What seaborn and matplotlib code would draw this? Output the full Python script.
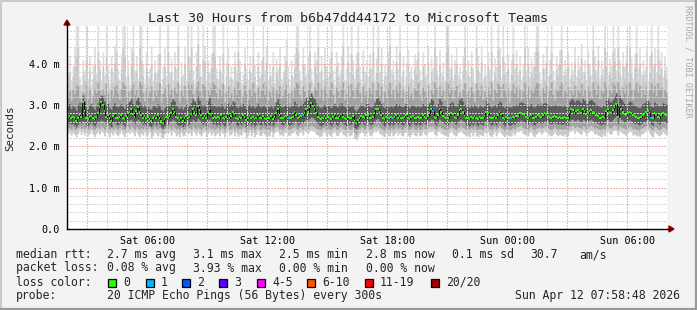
import numpy as np
import pandas as pd
import matplotlib
matplotlib.use("Agg")
import matplotlib.pyplot as plt
import seaborn as sns
from matplotlib.patches import Rectangle
from matplotlib.lines import Line2D

# ---------------- data (hundredths of a millisecond, one value per 5-minute step) -------------
START_HOUR = 1.98          # Sat 01:58:48 (hours since Sat 00:00)
STEP_HOURS = 1.0 / 12.0    # 5 minutes

MEDIAN = [
272,273,270,272,268,262,270,276,272,308,285,270,266,272,275,270,266,272,280,295,308,300,285,272,276,268,262,275,278,270,
268,272,276,270,266,274,280,284,290,278,272,286,296,284,276,270,274,268,272,266,262,270,274,268,276,270,262,258,266,272,
270,274,282,290,284,272,268,264,270,262,268,274,268,272,278,290,284,276,298,288,276,270,274,268,284,292,278,270,272,268,
272,268,276,270,266,272,278,270,274,284,278,270,266,272,268,276,272,264,270,274,268,272,266,270,276,270,268,274,270,266,
270,268,274,266,272,280,290,276,270,268,272,274,270,268,270,272,284,276,268,272,274,276,282,290,284,296,305,298,290,280,
272,268,266,270,274,268,272,270,266,272,276,270,268,274,278,272,270,266,272,268,270,274,262,258,264,270,274,272,268,276,
276,270,268,272,280,290,292,284,276,270,266,272,270,268,272,268,272,276,270,274,270,268,272,276,270,266,272,274,270,268,
272,268,270,276,272,270,274,280,290,286,272,268,276,290,284,274,272,270,268,276,282,278,272,270,276,288,292,284,274,268,
270,266,272,268,274,270,266,272,270,268,274,284,280,272,268,270,274,268,276,284,278,270,266,272,270,268,268,272,270,274,
274,280,282,278,276,272,270,274,276,270,268,272,276,274,272,276,280,278,274,272,270,272,274,272,270,272,270,270,272,268,
268,284,290,288,282,286,288,284,280,290,286,278,282,286,288,284,280,276,274,270,268,272,270,286,290,284,282,288,296,304,
272,298,290,284,278,276,280,284,282,276,274,272,270,268,272,276,278,284,286,280,270,268,282,278,272,270,276,280,278,276]

SMOKE_MAX = [
380,420,360,395,440,500,500,370,350,410,385,500,365,420,350,395,440,380,500,410,360,430,375,500,400,355,420,380,445,500,
390,360,425,500,500,370,410,350,440,500,385,420,365,500,500,400,355,430,370,390,445,360,410,380,425,500,350,395,440,370,
500,380,415,360,430,390,500,350,405,375,440,365,500,420,500,385,355,430,500,400,370,500,445,360,410,380,425,500,500,390,
365,420,380,500,350,405,440,370,395,360,430,385,500,410,355,375,440,390,360,420,380,500,400,350,430,370,410,500,385,445,
360,400,375,430,355,415,390,440,365,380,420,460,395,350,410,370,425,500,500,385,360,440,400,375,420,500,390,355,430,410,
500,380,420,360,440,395,370,415,500,385,350,430,405,375,420,500,360,390,445,380,500,410,365,425,500,395,355,435,380,410,
370,425,390,500,360,415,500,380,440,355,400,375,430,500,385,410,360,445,390,500,370,420,350,405,435,380,395,360,425,410,
500,385,360,430,400,375,445,355,415,390,500,420,370,435,380,405,360,500,500,390,425,365,410,440,375,395,355,420,500,385,
410,370,430,390,355,500,420,380,445,365,400,375,430,385,500,360,415,395,500,440,370,500,405,380,425,355,410,500,390,435,
375,420,360,400,500,385,440,370,415,395,430,500,500,380,355,425,390,445,370,410,500,385,360,420,400,435,500,375,410,390,
430,365,405,385,440,370,420,395,450,380,410,360,435,400,375,500,420,385,445,365,410,390,500,430,375,415,395,500,440,385,
500,410,370,430,395,445,380,500,415,365,425,500,390,440,375,410,385,435,360,420,500,395,440,380,500,410,430,370,420,395]

SMOKE_HI1 = [
355,380,340,370,395,420,440,350,335,375,360,410,345,385,330,365,400,360,430,385,340,395,355,420,370,335,390,355,400,430,
365,340,385,440,420,350,375,335,395,430,360,385,345,445,410,370,335,390,350,365,400,340,380,355,385,425,330,365,395,350,
430,355,380,340,395,360,445,330,370,350,400,345,420,385,440,360,335,395,450,370,350,410,405,340,375,355,390,430,420,365,
345,385,355,425,330,370,400,350,365,340,395,360,430,380,330,350,400,365,340,385,355,420,370,335,395,350,375,420,360,405,
340,370,350,395,330,380,360,400,345,355,385,410,365,330,375,345,390,440,430,360,340,400,370,350,385,430,360,335,395,375,
440,355,385,340,400,365,345,380,430,360,330,395,370,350,385,445,340,360,405,355,425,375,345,390,430,365,335,395,355,375,
345,390,360,430,340,380,440,355,400,335,370,350,395,445,355,375,340,405,360,430,345,385,330,370,400,355,365,340,390,375,
430,360,340,395,370,350,405,335,380,360,440,385,345,400,355,370,340,430,445,360,390,345,375,400,350,365,335,385,440,355,
375,345,395,360,335,440,385,355,405,340,370,350,395,360,430,340,380,365,435,400,345,420,375,355,390,330,375,425,360,400,
350,385,340,370,440,360,400,345,380,365,395,445,430,355,335,390,360,405,345,375,430,360,340,385,370,400,435,350,375,360,
395,345,375,360,405,350,385,365,415,355,380,340,400,370,350,435,385,360,410,345,375,365,440,395,350,380,365,430,405,360,
440,375,345,395,365,405,355,440,380,340,390,430,360,400,350,375,355,395,335,380,430,365,400,355,435,375,390,345,385,365]

SMOKE_HI2 = [
320,335,312,340,328,350,345,318,310,332,325,348,315,338,306,322,342,330,355,336,312,340,326,352,330,308,338,322,345,350,
328,314,340,356,348,320,334,308,342,352,326,338,316,358,350,330,310,344,322,332,346,312,336,324,340,355,306,328,342,318,
352,326,338,314,344,330,356,308,336,322,348,316,354,340,350,328,312,344,358,334,320,352,346,314,336,326,342,356,350,330,
316,340,324,352,308,334,346,320,330,312,344,326,356,338,306,322,348,330,314,340,324,354,332,308,344,318,336,352,326,346,
312,334,322,344,308,338,328,348,316,324,340,350,330,306,336,318,342,356,352,326,314,346,334,320,340,354,328,310,344,338,
356,322,340,312,346,330,318,338,354,326,306,344,334,320,340,356,314,328,348,322,352,336,316,342,354,330,308,346,324,336,
318,342,328,354,312,338,356,324,346,308,334,320,344,356,326,338,314,348,330,354,320,340,306,334,346,324,330,314,342,336,
354,326,312,344,334,320,348,308,338,328,356,342,318,346,324,336,314,356,352,330,342,316,336,348,322,332,308,340,354,326,
336,318,344,330,308,354,340,324,348,314,334,322,344,328,356,312,338,330,354,346,318,352,336,324,342,306,336,352,330,344,
320,340,314,334,354,326,346,318,338,330,344,356,352,324,308,342,330,348,318,336,356,326,312,340,334,346,356,320,336,330,
344,316,336,326,348,320,340,330,352,324,338,314,346,334,320,356,340,326,350,316,336,330,356,344,322,338,330,354,348,326,
356,338,318,344,330,350,324,356,340,314,342,354,330,348,320,338,326,346,312,340,354,332,348,324,354,338,344,318,340,332]

SMOKE_HI3 = [
298,304,292,300,296,288,302,306,298,325,310,296,292,300,304,296,290,298,306,318,325,322,310,300,304,294,290,302,306,298,
296,300,304,298,292,302,306,310,316,304,300,312,320,308,302,296,300,294,298,292,290,298,302,294,304,298,290,286,294,300,
298,302,308,316,310,300,296,292,298,290,296,302,296,300,306,316,310,304,322,312,302,298,302,296,310,318,304,298,300,296,
300,296,304,298,292,300,306,298,302,310,306,298,294,300,296,304,300,292,298,302,296,300,294,298,304,298,296,302,298,294,
298,296,302,294,300,308,316,304,298,296,300,302,298,296,298,300,310,304,296,300,302,304,310,318,312,322,330,322,316,306,
300,296,294,298,302,296,300,298,294,300,304,298,296,302,306,300,298,294,300,296,298,302,290,286,292,298,302,300,296,304,
304,298,296,300,306,316,318,310,304,298,294,300,298,296,300,296,300,304,298,302,298,296,300,304,298,294,300,302,298,296,
300,296,298,304,300,298,302,306,316,312,300,296,304,316,310,302,300,298,296,304,308,306,300,298,304,314,318,310,302,296,
298,294,300,296,302,298,294,300,298,296,302,310,306,300,296,298,302,296,304,310,306,298,294,300,298,296,296,300,298,302,
302,306,308,306,304,300,298,302,304,298,296,300,304,302,300,304,306,306,302,300,298,300,302,300,298,300,298,298,300,296,
296,310,316,314,308,312,314,310,306,316,312,304,308,312,314,310,306,302,300,298,296,300,298,312,316,310,308,314,322,330,
300,324,316,310,304,302,306,310,308,302,300,298,296,294,300,304,306,310,312,306,298,296,308,304,300,298,302,306,304,302]

SMOKE_LO3 = [
256,258,254,256,252,248,254,258,256,262,260,254,250,256,258,254,250,256,260,262,264,262,260,256,258,252,248,258,260,254,
252,256,258,254,250,258,262,264,266,260,256,262,266,262,258,254,256,252,256,250,248,254,258,252,258,254,248,244,250,256,
254,258,262,266,262,256,252,250,254,248,252,258,252,256,260,266,262,258,268,264,258,254,258,252,262,266,260,254,256,252,
256,252,258,254,250,256,260,254,258,262,260,254,250,256,252,258,256,248,254,258,252,256,250,254,258,254,252,258,254,250,
254,252,258,250,256,260,266,260,254,252,256,258,254,252,254,256,262,260,252,256,258,258,262,266,262,268,272,270,266,260,
256,252,250,254,258,252,256,254,250,256,258,254,252,258,260,256,254,250,256,252,254,258,246,242,248,254,258,256,252,258,
258,254,252,256,262,266,268,262,258,254,250,256,254,252,256,252,256,258,254,258,254,252,256,258,254,250,256,258,254,252,
256,252,254,258,256,254,258,262,266,264,256,252,258,266,262,258,256,254,252,258,262,260,256,254,258,264,266,262,258,252,
254,250,256,252,258,254,250,256,254,252,258,262,260,256,252,254,258,252,258,262,260,254,250,256,254,252,252,256,254,258,
258,262,264,260,258,256,254,258,258,254,252,256,258,258,256,258,262,260,258,256,254,256,258,256,254,256,254,254,256,252,
252,262,266,266,262,264,266,262,260,266,264,258,262,264,266,262,260,258,256,254,252,256,254,262,266,262,260,266,270,274,
256,272,266,262,260,258,262,264,262,258,256,256,254,252,256,258,260,262,266,262,254,252,262,260,256,254,258,262,260,258]

SMOKE_LO2 = [
244,246,240,248,242,238,246,250,244,248,242,246,240,244,250,242,238,246,248,244,250,246,240,248,244,238,246,242,248,244,
240,246,250,242,238,246,248,244,250,246,240,248,244,238,246,242,248,240,244,250,236,242,248,244,240,246,238,234,242,246,
244,248,242,250,246,240,244,238,246,240,242,248,244,246,240,250,246,242,248,244,240,246,250,238,244,248,242,246,240,244,
246,240,248,244,238,246,250,242,244,248,240,246,238,244,242,248,246,236,242,248,240,246,238,244,250,242,240,246,244,238,
242,240,248,238,246,250,248,242,244,240,246,248,242,240,244,246,250,244,240,246,248,242,250,248,244,250,252,250,248,244,
242,238,240,246,248,240,244,242,238,246,248,242,240,246,250,244,242,238,246,240,242,248,234,230,238,244,248,246,240,246,
248,242,240,246,250,248,252,246,244,240,238,246,242,240,246,240,244,248,242,246,242,240,246,248,242,238,244,248,242,240,
246,240,242,248,244,242,246,250,248,250,244,240,248,250,246,244,242,240,238,246,250,246,242,240,246,248,250,246,244,240,
242,238,246,240,248,242,238,244,242,240,248,246,248,242,238,244,248,240,246,250,246,242,238,244,242,240,240,246,242,248,
248,250,252,246,244,242,240,246,248,242,238,244,246,248,244,246,250,248,246,242,240,244,248,244,240,244,242,240,244,238,
240,248,250,252,246,250,248,246,244,250,248,242,246,250,252,248,244,246,242,240,238,244,240,248,250,246,244,250,252,250,
242,250,248,246,244,240,246,250,248,242,244,240,242,238,244,246,248,250,252,246,240,238,248,246,242,240,244,248,246,242]

SMOKE_MIN = [
232,236,228,234,230,224,232,238,230,236,228,234,226,232,238,230,224,232,236,230,238,234,226,236,232,224,234,228,236,230,
226,232,238,230,224,234,236,232,238,234,226,236,230,224,232,228,236,226,230,238,222,228,236,232,226,234,224,220,230,234,
232,236,228,238,234,226,230,224,234,226,228,236,232,234,226,238,234,228,236,230,226,234,238,224,232,236,228,234,226,230,
234,226,236,232,224,234,238,228,230,236,226,234,224,230,228,236,234,222,228,236,226,234,224,230,238,228,226,234,230,224,
228,226,236,224,234,238,236,228,230,226,234,236,228,226,232,234,238,230,226,234,236,228,238,236,232,238,240,238,236,230,
228,224,226,234,236,226,232,228,224,234,236,228,226,234,238,230,228,224,234,226,228,236,220,216,224,232,236,234,226,232,
236,228,226,234,238,236,240,232,230,226,224,234,228,226,234,226,230,236,228,234,228,226,234,236,228,224,230,236,228,226,
234,226,228,236,230,228,234,238,236,238,230,226,236,238,232,230,228,226,224,234,238,232,228,226,234,236,238,232,230,226,
228,224,234,226,236,228,224,230,228,226,236,232,236,228,224,230,236,226,234,238,232,228,224,230,228,226,226,234,228,236,
236,238,240,232,230,228,226,234,236,228,224,230,234,236,230,234,238,236,232,228,226,230,236,230,226,230,228,226,230,224,
226,236,238,240,232,238,236,232,230,238,236,228,234,238,240,236,230,232,228,226,224,230,226,236,238,232,230,238,240,238,
228,238,236,232,230,226,234,238,236,228,230,226,228,224,230,232,236,238,240,232,226,224,236,232,228,226,230,236,232,228]

LOSS_STEPS = [132, 141, 195, 219, 266, 350]
LOSS_COUNTS = [1, 1, 1, 1, 1, 1]

X_TICK_HOURS = [6, 12, 18, 24, 30]
X_TICK_LABELS = ["Sat 06:00", "Sat 12:00", "Sat 18:00", "Sun 00:00", "Sun 06:00"]
Y_TICKS = [0, 1, 2, 3, 4]
Y_TICK_LABELS = ["0.0", "1.0 m", "2.0 m", "3.0 m", "4.0 m"]

LOSS_LEGEND = ["0", "1", "2", "3", "4-5", "6-10", "11-19", "20/20"]
LOSS_COLORS = ["#26ff00", "#00b8ff", "#0059ff", "#5e00ff", "#ff00ff", "#ff5500", "#ff0000", "#a00000"]

TITLE = "Last 30 Hours from b6b47dd44172 to Microsoft Teams"
STATS_RTT = ["median rtt:", "2.7 ms avg", "3.1 ms max", "2.5 ms min", "2.8 ms now", "0.1 ms sd", "30.7", "am/s"]
STATS_LOSS = ["packet loss:", "0.08 % avg", "3.93 % max", "0.00 % min", "0.00 % now"]
PROBE = ["probe:", "20 ICMP Echo Pings (56 Bytes) every 300s", "Sun Apr 12 07:58:48 2026"]

# ---------------- figure --------------------------------------------------------------------
sns.set_style("white")
MONO = "DejaVu Sans Mono"
plt.rcParams["font.family"] = [MONO]

W, H = 697, 310
fig = plt.figure(figsize=(W / 100, H / 100), dpi=100, facecolor="#f3f3f3")

def fx(px):
    return px / W

def fy(py):
    return 1 - py / H

PL, PR, PT, PB = 67, 667, 26, 229
ax = fig.add_axes([fx(PL), fy(PB), fx(PR - PL), fy(PT) - fy(PB)])
ax.set_facecolor("white")

n = len(MEDIAN)
t = START_HOUR + np.arange(n + 1) * STEP_HOURS
def edge(vals):
    v = np.asarray(vals, dtype=float) / 100.0
    return np.append(v, v[-1])

mn, lo2, lo3 = edge(SMOKE_MIN), edge(SMOKE_LO2), edge(SMOKE_LO3)
hi3, hi2, hi1, mx = edge(SMOKE_HI3), edge(SMOKE_HI2), edge(SMOKE_HI1), edge(SMOKE_MAX)
med = np.asarray(MEDIAN, dtype=float) / 100.0

ax.fill_between(t, mn, mx, step="post", color="#dedede", lw=0, zorder=1)
ax.fill_between(t, mn, hi1, step="post", color="#c9c9c9", lw=0, zorder=1.5)
ax.fill_between(t, lo2, hi2, step="post", color="#a2a2a2", lw=0, zorder=2)
ax.fill_between(t, lo3, hi3, step="post", color="#5c5c5c", lw=0, zorder=3)

# grid (drawn over the smoke)
YMAX = 4.92
MAJ, MINR = "#f5b0b0", "#d6d6d6"
for h in range(2, 32):
    major = (h % 3 == 0)
    ax.axvline(h, color=MAJ if major else MINR, lw=1.0,
               ls=(0, (1, 1)), zorder=4, antialiased=False)
for k in range(1, 25):
    yv = k * 0.2
    if yv > YMAX:
        break
    major = (k % 5 == 0)
    ax.axhline(yv, color=MAJ if major else MINR, lw=1.0,
               ls=(0, (1, 1)), zorder=4, antialiased=False)

# median: black connecting step line + coloured loss segments
df = pd.DataFrame({"t": t, "median": np.append(med, med[-1])})
sns.lineplot(data=df, x="t", y="median", drawstyle="steps-post", color="#111111",
             lw=0.8, ax=ax, zorder=5)
seg_colors = [LOSS_COLORS[0]] * n
for s, c in zip(LOSS_STEPS, LOSS_COUNTS):
    seg_colors[s] = LOSS_COLORS[c]
ax.hlines(med, t[:-1], t[1:], colors=seg_colors, lw=1.5, zorder=6)

ax.set_xlim(START_HOUR, START_HOUR + 30)
ax.set_ylim(0, YMAX)
ax.set_xlabel("")
ax.set_ylabel("")
ax.set_xticks(X_TICK_HOURS)
ax.set_xticklabels(X_TICK_LABELS)
ax.set_yticks(Y_TICKS)
ax.set_yticklabels(Y_TICK_LABELS)
ax.tick_params(axis="both", labelsize=7.3, length=2, width=0.8, pad=3, colors="black")
for sp in ["top", "right"]:
    ax.spines[sp].set_visible(False)
for sp in ["left", "bottom"]:
    ax.spines[sp].set_color("black")
    ax.spines[sp].set_linewidth(1.0)
    ax.spines[sp].set_zorder(7)

# axis arrows
fig.add_artist(Line2D([fx(PL), fx(PL)], [fy(PT), fy(PT - 4)], color="black", lw=1.0))
fig.add_artist(Line2D([fx(PR), fx(PR + 3)], [fy(PB), fy(PB)], color="black", lw=1.0))
fig.patches.append(plt.Polygon([[fx(PL - 3), fy(PT - 1)], [fx(PL + 3), fy(PT - 1)], [fx(PL), fy(PT - 6)]],
                               closed=True, transform=fig.transFigure, color="#8b0000"))
fig.patches.append(plt.Polygon([[fx(PR + 2), fy(PB - 3)], [fx(PR + 2), fy(PB + 3)], [fx(PR + 7), fy(PB)]],
                               closed=True, transform=fig.transFigure, color="#8b0000"))

# title, y label, side credit
fig.text(fx(348), fy(19), TITLE, ha="center", va="center", fontsize=9.6, family=MONO)
fig.text(fx(10), fy(128), "Seconds", rotation=90, ha="center", va="center", fontsize=7.8, family=MONO)
fig.text(fx(688), fy(5), "RRDTOOL / TOBI OETIKER", rotation=270, ha="center", va="top",
         fontsize=6.1, color="#a8a8a8", family=MONO)

# legend rows
LEG = 8.3
rows_y = [254.5, 268, 282, 296]
xs1 = [16, 107, 193, 279, 366, 452, 530, 579]
for s, x in zip(STATS_RTT, xs1):
    fig.text(fx(x), fy(rows_y[0]), s, ha="left", va="center", fontsize=LEG, family=MONO)
for s, x in zip(STATS_LOSS, xs1[:5]):
    fig.text(fx(x), fy(rows_y[1]), s, ha="left", va="center", fontsize=LEG, family=MONO)
fig.text(fx(16), fy(rows_y[2]), "loss color:", ha="left", va="center", fontsize=LEG, family=MONO)
box_x = [108, 146, 182, 219, 257, 307, 365, 431]
for lab, col, bx in zip(LOSS_LEGEND, LOSS_COLORS, box_x):
    fig.patches.append(Rectangle((fx(bx), fy(rows_y[2] + 4.5)), fx(8), fy(0) - fy(8),
                                 transform=fig.transFigure, facecolor=col, edgecolor="black", lw=0.9))
    fig.text(fx(bx + 15), fy(rows_y[2]), lab, ha="left", va="center", fontsize=LEG, family=MONO)
fig.text(fx(16), fy(rows_y[3]), PROBE[0], ha="left", va="center", fontsize=LEG, family=MONO)
fig.text(fx(107), fy(rows_y[3]), PROBE[1], ha="left", va="center", fontsize=LEG, family=MONO)
fig.text(fx(680), fy(rows_y[3]), PROBE[2], ha="right", va="center", fontsize=LEG, family=MONO)

# outer 3-D style frame
fig.add_artist(Line2D([0, 1], [fy(0.75), fy(0.75)], color="#cbcbcb", lw=1.5))
fig.add_artist(Line2D([fx(0.75), fx(0.75)], [0, 1], color="#cbcbcb", lw=1.5))
fig.add_artist(Line2D([fx(W - 1.5), fx(W - 1.5)], [0, 1], color="#999999", lw=2.3))
fig.add_artist(Line2D([0, 1], [fy(H - 1.5), fy(H - 1.5)], color="#999999", lw=2.3))

fig.savefig("out.png", dpi=100, facecolor=fig.get_facecolor())
